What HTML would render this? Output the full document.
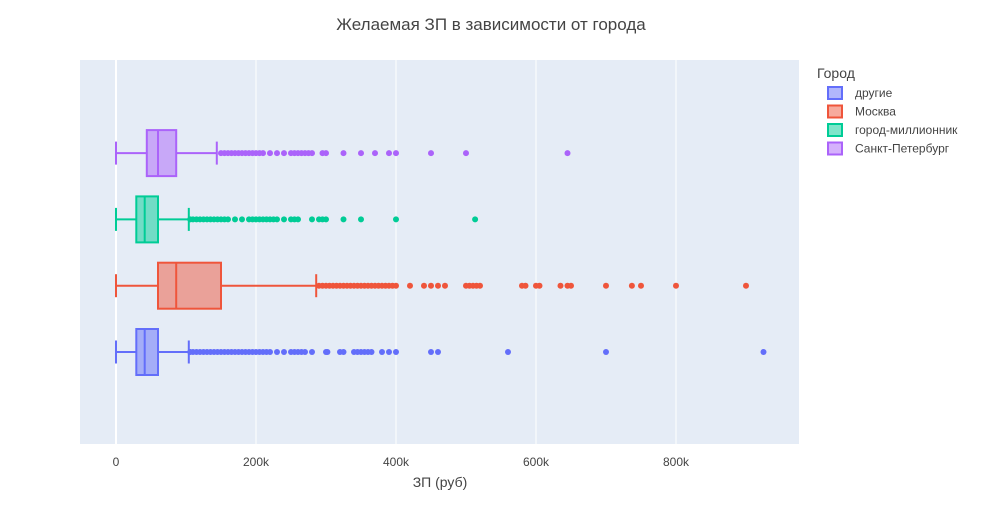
<!DOCTYPE html>
<html><head><meta charset="utf-8">
<style>
body{margin:0;background:#fff;font-family:"Liberation Sans","DejaVu Sans",sans-serif;}
svg text{font-family:"Liberation Sans","DejaVu Sans",sans-serif;}
</style></head>
<body>
<svg id="chart" width="983" height="525" xmlns="http://www.w3.org/2000/svg">
<rect x="0" y="0" width="983" height="525" fill="#fff"/>
<rect x="80" y="60" width="719" height="384" fill="#e5ecf6"/>
<g id="grid"></g>
<g id="marks"></g>
<g id="ticks"></g>
<text x="491" y="30" text-anchor="middle" font-size="17" fill="#444">Желаемая ЗП в зависимости от города</text>
<text x="440" y="487" text-anchor="middle" font-size="14" fill="#444">ЗП (руб)</text>
<g id="legend"></g>
</svg>
<script>
const categories = ["другие","Москва","город-миллионник","Санкт-Петербург"];
const colors = ["#636efa","#EF553B","#00cc96","#ab63fa"];
const fills = ["rgba(99,110,250,0.5)","rgba(239,85,59,0.5)","rgba(0,204,150,0.5)","rgba(171,99,250,0.5)"];
const mins = [0,0,0,0];
const q1s = [29,60,29,44];
const medians = [41,86,41,60];
const q3s = [60,150,60,86];
const fences = [104,286,104,144];
const outliers0 = [106,110,115,120,125,130,135,140,145,150,155,160,165,170,175,180,185,190,195,200,205,210,215,220,230,240,250,255,260,265,270,280,300,302,320,325,340,345,350,355,360,365,380,390,400,450,460,560,700,925];
const outliers1 = [290,295,300,305,310,315,320,325,330,335,340,345,350,355,360,365,370,375,380,385,390,395,400,420,440,450,460,470,500,505,510,515,520,580,585,600,605,635,645,650,700,737,750,800,900];
const outliers2 = [106,110,115,120,125,130,135,140,145,150,155,160,170,180,190,195,200,205,210,215,220,225,230,240,250,255,260,280,290,295,300,325,350,400,513];
const outliers3 = [150,155,160,165,170,175,180,185,190,195,200,205,210,220,230,240,250,255,260,265,270,275,280,295,300,325,350,370,390,400,450,500,645];
const outliers = [outliers0,outliers1,outliers2,outliers3];
const tickVals = [0,200,400,600,800];
const tickLabels = ["0","200k","400k","600k","800k"];

const NS="http://www.w3.org/2000/svg";
function xs(v){return 116+v*0.7;}
function ys(i){return 352-i*66.3;}
function mk(tag,attrs,parent){const e=document.createElementNS(NS,tag);for(const k in attrs)e.setAttribute(k,attrs[k]);parent.appendChild(e);return e;}
const grid=document.getElementById('grid'),marks=document.getElementById('marks'),ticks=document.getElementById('ticks'),legend=document.getElementById('legend');
tickVals.forEach((v,i)=>{
  const l=mk('line',{x1:xs(v),x2:xs(v),y1:60,y2:444,stroke:'#fff','stroke-width':v===0?2:1},grid);
  
  
  const t=mk('text',{x:xs(v),y:466,'text-anchor':'middle','font-size':12,fill:'#444'},ticks);
  t.textContent=tickLabels[i];
  
  
});
const bh=46;
categories.forEach((c,i)=>{
  const y=ys(i),col=colors[i];
  const g=mk('g',{},marks);
  
  
  mk('line',{x1:xs(mins[i]),x2:xs(q1s[i]),y1:y,y2:y,stroke:col,'stroke-width':2},g);
  mk('line',{x1:xs(q3s[i]),x2:xs(fences[i]),y1:y,y2:y,stroke:col,'stroke-width':2},g);
  mk('line',{x1:xs(mins[i]),x2:xs(mins[i]),y1:y-bh/4,y2:y+bh/4,stroke:col,'stroke-width':2},g);
  mk('line',{x1:xs(fences[i]),x2:xs(fences[i]),y1:y-bh/4,y2:y+bh/4,stroke:col,'stroke-width':2},g);
  mk('rect',{x:xs(q1s[i]),y:y-bh/2,width:xs(q3s[i])-xs(q1s[i]),height:bh,fill:fills[i],stroke:col,'stroke-width':2},g);
  mk('line',{x1:xs(medians[i]),x2:xs(medians[i]),y1:y-bh/2,y2:y+bh/2,stroke:col,'stroke-width':2},g);
  outliers[i].forEach(v=>{
    const d=mk('circle',{cx:xs(v),cy:y,r:3,fill:col},g);
    
    
  });
});
const lt=mk('text',{x:817,y:78,'font-size':14,fill:'#444'},legend);
lt.textContent='Город';


categories.forEach((c,i)=>{
  const y=93+i*18.5;
  const g=mk('g',{},legend);
  
  
  mk('rect',{x:828,y:y-6,width:14,height:12,fill:fills[i],stroke:colors[i],'stroke-width':2},g);
  const t=mk('text',{x:855,y:y+4,'font-size':12,fill:'#444'},g);
  t.textContent=c;
});
</script>
</body></html>
